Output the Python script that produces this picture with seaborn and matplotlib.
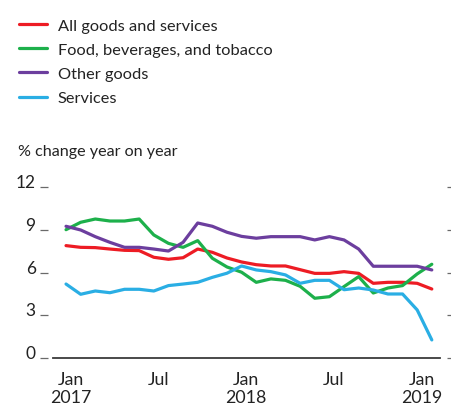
import numpy as np
import pandas as pd
import matplotlib
matplotlib.use("Agg")
import matplotlib.pyplot as plt
import matplotlib.transforms as mtransforms
import seaborn as sns

series_names = ["All goods and services", "Food, beverages, and tobacco",
                "Other goods", "Services"]
all_goods = [7.90, 7.78, 7.76, 7.66, 7.57, 7.55, 7.08, 6.94, 7.05, 7.66, 7.43, 7.03, 6.75,
             6.56, 6.47, 6.47, 6.21, 5.95, 5.95, 6.07, 5.95, 5.25, 5.32, 5.32, 5.25, 4.85]
food = [9.02, 9.54, 9.77, 9.63, 9.63, 9.77, 8.65, 8.06, 7.78, 8.25, 7.01, 6.40, 6.03,
        5.32, 5.56, 5.46, 5.04, 4.20, 4.31, 5.02, 5.72, 4.57, 4.92, 5.09, 5.91, 6.59]
other_goods = [9.26, 9.00, 8.53, 8.13, 7.78, 7.78, 7.66, 7.52, 8.13, 9.49, 9.26, 8.84, 8.55,
               8.42, 8.53, 8.53, 8.53, 8.30, 8.53, 8.30, 7.66, 6.45, 6.45, 6.45, 6.45, 6.19]
services = [5.20, 4.48, 4.71, 4.59, 4.83, 4.83, 4.71, 5.09, 5.20, 5.32, 5.67, 5.96, 6.47,
            6.19, 6.07, 5.84, 5.25, 5.46, 5.46, 4.80, 4.92, 4.78, 4.50, 4.50, 3.38, 1.27]
months = list(range(len(all_goods)))  # 0 = Jan 2017
tick_months = [0, 6, 12, 18, 24]
tick_labels = ["Jan\n2017", "Jul", "Jan\n2018", "Jul", "Jan\n2019"]
y_ticks = [0, 3, 6, 9, 12]
colors = ["#ED1C24", "#1DB04B", "#6C3E9E", "#2AAEE4"]

df = pd.concat([
    pd.DataFrame({"month": months, "value": vals, "series": name})
    for name, vals in zip(series_names, [all_goods, food, other_goods, services])
])

sns.set_style("white")
plt.rcParams["font.family"] = ["Lato", "DejaVu Sans"]
text_color = "#222222"

fig = plt.figure(figsize=(4.51, 4.06), dpi=100)
W, H = 451, 406
x0_px, x1_px = 53, 440
y0_px, y1_px = 359, 188.3
ax = fig.add_axes([x0_px / W, (H - y0_px) / H, (x1_px - x0_px) / W, (y0_px - y1_px) / H])

sns.lineplot(data=df, x="month", y="value", hue="series", palette=colors,
             linewidth=2.3, ax=ax, legend=True, clip_on=False)

ax.set_xlim(-0.89, 25.56)
ax.set_ylim(0, 12)
ax.set_xlabel("")
ax.set_ylabel("")

for s in ["top", "right", "left"]:
    ax.spines[s].set_visible(False)
ax.spines["bottom"].set_color("#3a3a3a")
ax.spines["bottom"].set_linewidth(1.3)

ax.set_yticks(y_ticks)
ax.set_yticklabels([str(v) for v in y_ticks])
ax.tick_params(axis="y", which="both", left=True, right=True, labelleft=True,
               length=5.8, width=0.9, color="#6a6a6a", direction="out",
               pad=3.1, labelsize=12.5, labelcolor=text_color)
ax.spines["left"].set_position(("outward", 3.6))
ax.spines["right"].set_position(("outward", 4.8))
for lab in ax.get_yticklabels():
    lab.set_va("baseline")

ax.set_xticks(tick_months)
ax.set_xticklabels(tick_labels)
ax.tick_params(axis="x", length=0, pad=9.5, labelsize=12.8, labelcolor=text_color)
off = mtransforms.ScaledTranslation(4.5 / 100, 0, fig.dpi_scale_trans)
for lab in ax.get_xticklabels():
    lab.set_transform(lab.get_transform() + off)
    lab.set_linespacing(1.15)

handles, labels = ax.get_legend_handles_labels()
ax.legend_.remove()
leg = fig.legend(handles, labels, loc="upper left", bbox_to_anchor=(12.5 / W, 1 - 12.5 / H),
                 frameon=False, fontsize=11.8, handlelength=1.69, handletextpad=0.67,
                 labelspacing=0.6, borderaxespad=0, borderpad=0.4)
for t in leg.get_texts():
    t.set_color(text_color)
for h in leg.get_lines():
    h.set_linewidth(2.3)

fig.text(18 / W, 1 - 152 / H, "% change year on year", fontsize=11.6, color=text_color,
         va="center", ha="left")

fig.savefig("out.png", dpi=100, facecolor="white")
